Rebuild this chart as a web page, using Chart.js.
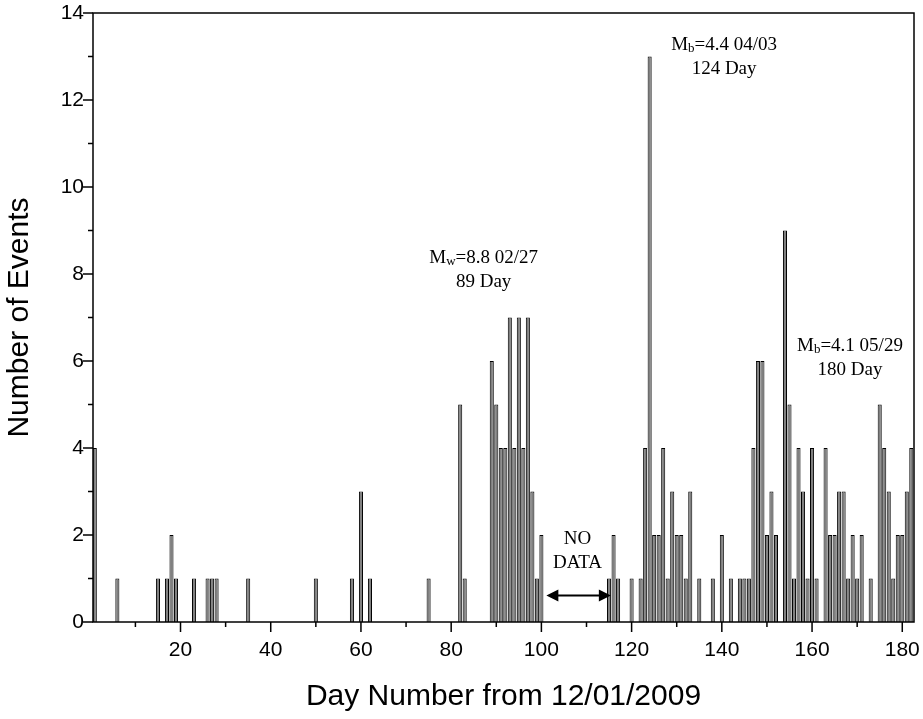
<!DOCTYPE html>
<html>
<head>
<meta charset="utf-8">
<script src="https://cdn.jsdelivr.net/npm/chart.js@4.4.1/dist/chart.umd.min.js"></script>
<style>
  body { margin: 0; background: #fff; }
  canvas { display: block; }
</style>
</head>
<body>
<canvas id="eventsChart" width="923" height="719"></canvas>
<script>
// Days (from 12/01/2009) that had at least one event, and how many
const days = [1, 6, 15, 17, 18, 19, 23, 26, 27, 28, 35, 50, 58, 60, 62, 75, 82, 83,
  89, 90, 91, 92, 93, 94, 95, 96, 97, 98, 99, 100,
  115, 116, 117, 120, 122, 123, 124, 125, 126, 127, 128, 129, 130, 131, 132, 133, 135, 138, 140,
  142, 144, 145, 146, 147, 148, 149, 150, 151, 152, 154, 155, 156, 157, 158, 159, 160, 161,
  163, 164, 165, 166, 167, 168, 169, 170, 171, 173, 175, 176, 177, 178, 179, 180, 181, 182];
const counts = [4, 1, 1, 1, 2, 1, 1, 1, 1, 1, 1, 1, 1, 3, 1, 1, 5, 1,
  6, 5, 4, 4, 7, 4, 7, 4, 7, 3, 1, 2,
  1, 2, 1, 1, 1, 4, 13, 2, 2, 4, 1, 3, 2, 2, 1, 3, 1, 1, 2,
  1, 1, 1, 1, 4, 6, 6, 2, 3, 2, 9, 5, 1, 4, 3, 1, 4, 1,
  4, 2, 2, 3, 3, 1, 2, 1, 2, 1, 5, 4, 3, 1, 2, 2, 3, 4];

const xTicks = [10, 20, 30, 40, 50, 60, 70, 80, 90, 100, 110, 120, 130, 140, 150, 160, 170, 180];
const yTicks = [0, 1, 2, 3, 4, 5, 6, 7, 8, 9, 10, 11, 12, 13, 14];

// event labels: symbol, subscript, rest of first line, second line
const quakes = [
  { m: 'M', sub: 'w', rest: '=8.8 02/27', line2: '89 Day' },
  { m: 'M', sub: 'b', rest: '=4.4 04/03', line2: '124 Day' },
  { m: 'M', sub: 'b', rest: '=4.1 05/29', line2: '180 Day' }
];

const points = days.map((d, i) => ({ x: d, y: counts[i] }));

// frame, ticks, annotations
const extras = {
  id: 'extras',
  afterDatasetsDraw(chart) {
    const ctx = chart.ctx;
    const a = chart.chartArea;
    const xs = chart.scales.x;
    const ys = chart.scales.y;
    ctx.save();
    ctx.strokeStyle = '#000';
    ctx.lineWidth = 1.5;
    ctx.strokeRect(a.left, a.top, a.right - a.left, a.bottom - a.top);

    ctx.beginPath();
    xTicks.forEach(v => {
      const px = xs.getPixelForValue(v);
      const len = v % 20 === 0 ? 10 : 5;
      ctx.moveTo(px, a.bottom);
      ctx.lineTo(px, a.bottom + len);
    });
    yTicks.forEach(v => {
      const py = ys.getPixelForValue(v);
      const len = v % 2 === 0 ? 10 : 5;
      ctx.moveTo(a.left, py);
      ctx.lineTo(a.left - len, py);
    });
    ctx.stroke();

    // annotations (anchor in data units: day, count)
    const anchors = [[87.2, 8.37], [140.5, 13.27], [168.4, 6.35]];
    ctx.fillStyle = '#000';
    ctx.textBaseline = 'middle';
    const big = '19px "Liberation Serif", "Times New Roman", serif';
    const small = '13px "Liberation Serif", "Times New Roman", serif';
    quakes.forEach((q, i) => {
      const cx = xs.getPixelForValue(anchors[i][0]);
      const y1 = ys.getPixelForValue(anchors[i][1]);
      ctx.font = big;
      const wM = ctx.measureText(q.m).width;
      const wR = ctx.measureText(q.rest).width;
      ctx.font = small;
      const wS = ctx.measureText(q.sub).width;
      const x = cx - (wM + wS + wR) / 2;
      ctx.textAlign = 'left';
      ctx.font = big;
      ctx.fillText(q.m, x, y1);
      ctx.font = small;
      ctx.fillText(q.sub, x + wM, y1 + 4);
      ctx.font = big;
      ctx.fillText(q.rest, x + wM + wS, y1);
      ctx.textAlign = 'center';
      ctx.fillText(q.line2, cx, y1 + 24);
    });

    // NO DATA gap
    const gx = xs.getPixelForValue(108);
    ctx.font = big;
    ctx.textAlign = 'center';
    ctx.fillText('NO', gx, ys.getPixelForValue(1.9));
    ctx.fillText('DATA', gx, ys.getPixelForValue(1.35));
    const ax1 = xs.getPixelForValue(101.1);
    const ax2 = xs.getPixelForValue(115.4);
    const ay = ys.getPixelForValue(0.61);
    ctx.lineWidth = 2;
    ctx.beginPath();
    ctx.moveTo(ax1 + 8, ay);
    ctx.lineTo(ax2 - 8, ay);
    ctx.stroke();
    ctx.beginPath();
    ctx.moveTo(ax1, ay); ctx.lineTo(ax1 + 12, ay - 6); ctx.lineTo(ax1 + 12, ay + 6); ctx.closePath();
    ctx.moveTo(ax2, ay); ctx.lineTo(ax2 - 12, ay - 6); ctx.lineTo(ax2 - 12, ay + 6); ctx.closePath();
    ctx.fill();
    ctx.restore();
  }
};

new Chart(document.getElementById('eventsChart'), {
  type: 'bar',
  data: {
    datasets: [{
      data: points,
      backgroundColor: '#808080',
      borderColor: '#000',
      borderWidth: 1,
      barPercentage: 0.9,
      categoryPercentage: 1
    }]
  },
  options: {
    responsive: false,
    animation: false,
    layout: { padding: { top: 13, right: 9, left: 0, bottom: 0 } },
    plugins: { legend: { display: false }, tooltip: { enabled: false } },
    scales: {
      x: {
        type: 'linear',
        offset: false,
        min: 0.6,
        max: 182.6,
        grid: { display: false, drawTicks: false },
        border: { display: false },
        afterBuildTicks(s) { s.ticks = xTicks.filter(v => v % 20 === 0).map(v => ({ value: v })); },
        afterFit(s) { s.height = 97; s.paddingLeft = 0; s.paddingRight = 0; },
        ticks: {
          padding: 16,
          color: '#000',
          font: { family: '"Liberation Sans", Arial, sans-serif', size: 21 },
          maxRotation: 0
        },
        title: {
          display: true,
          text: 'Day Number from 12/01/2009',
          color: '#000',
          font: { family: '"Liberation Sans", Arial, sans-serif', size: 30 },
          padding: { top: 0, bottom: 4 }
        }
      },
      y: {
        min: 0,
        max: 14,
        grid: { display: false, drawTicks: false },
        border: { display: false },
        afterBuildTicks(s) { s.ticks = yTicks.filter(v => v % 2 === 0).map(v => ({ value: v })); },
        afterFit(s) { s.width = 93; s.paddingTop = 0; s.paddingBottom = 0; },
        ticks: {
          padding: 9,
          color: '#000',
          font: { family: '"Liberation Sans", Arial, sans-serif', size: 21 }
        },
        title: {
          display: true,
          text: 'Number of Events',
          color: '#000',
          font: { family: '"Liberation Sans", Arial, sans-serif', size: 30 },
          padding: { top: 2, bottom: 0 }
        }
      }
    }
  },
  plugins: [extras]
});
</script>
</body>
</html>
